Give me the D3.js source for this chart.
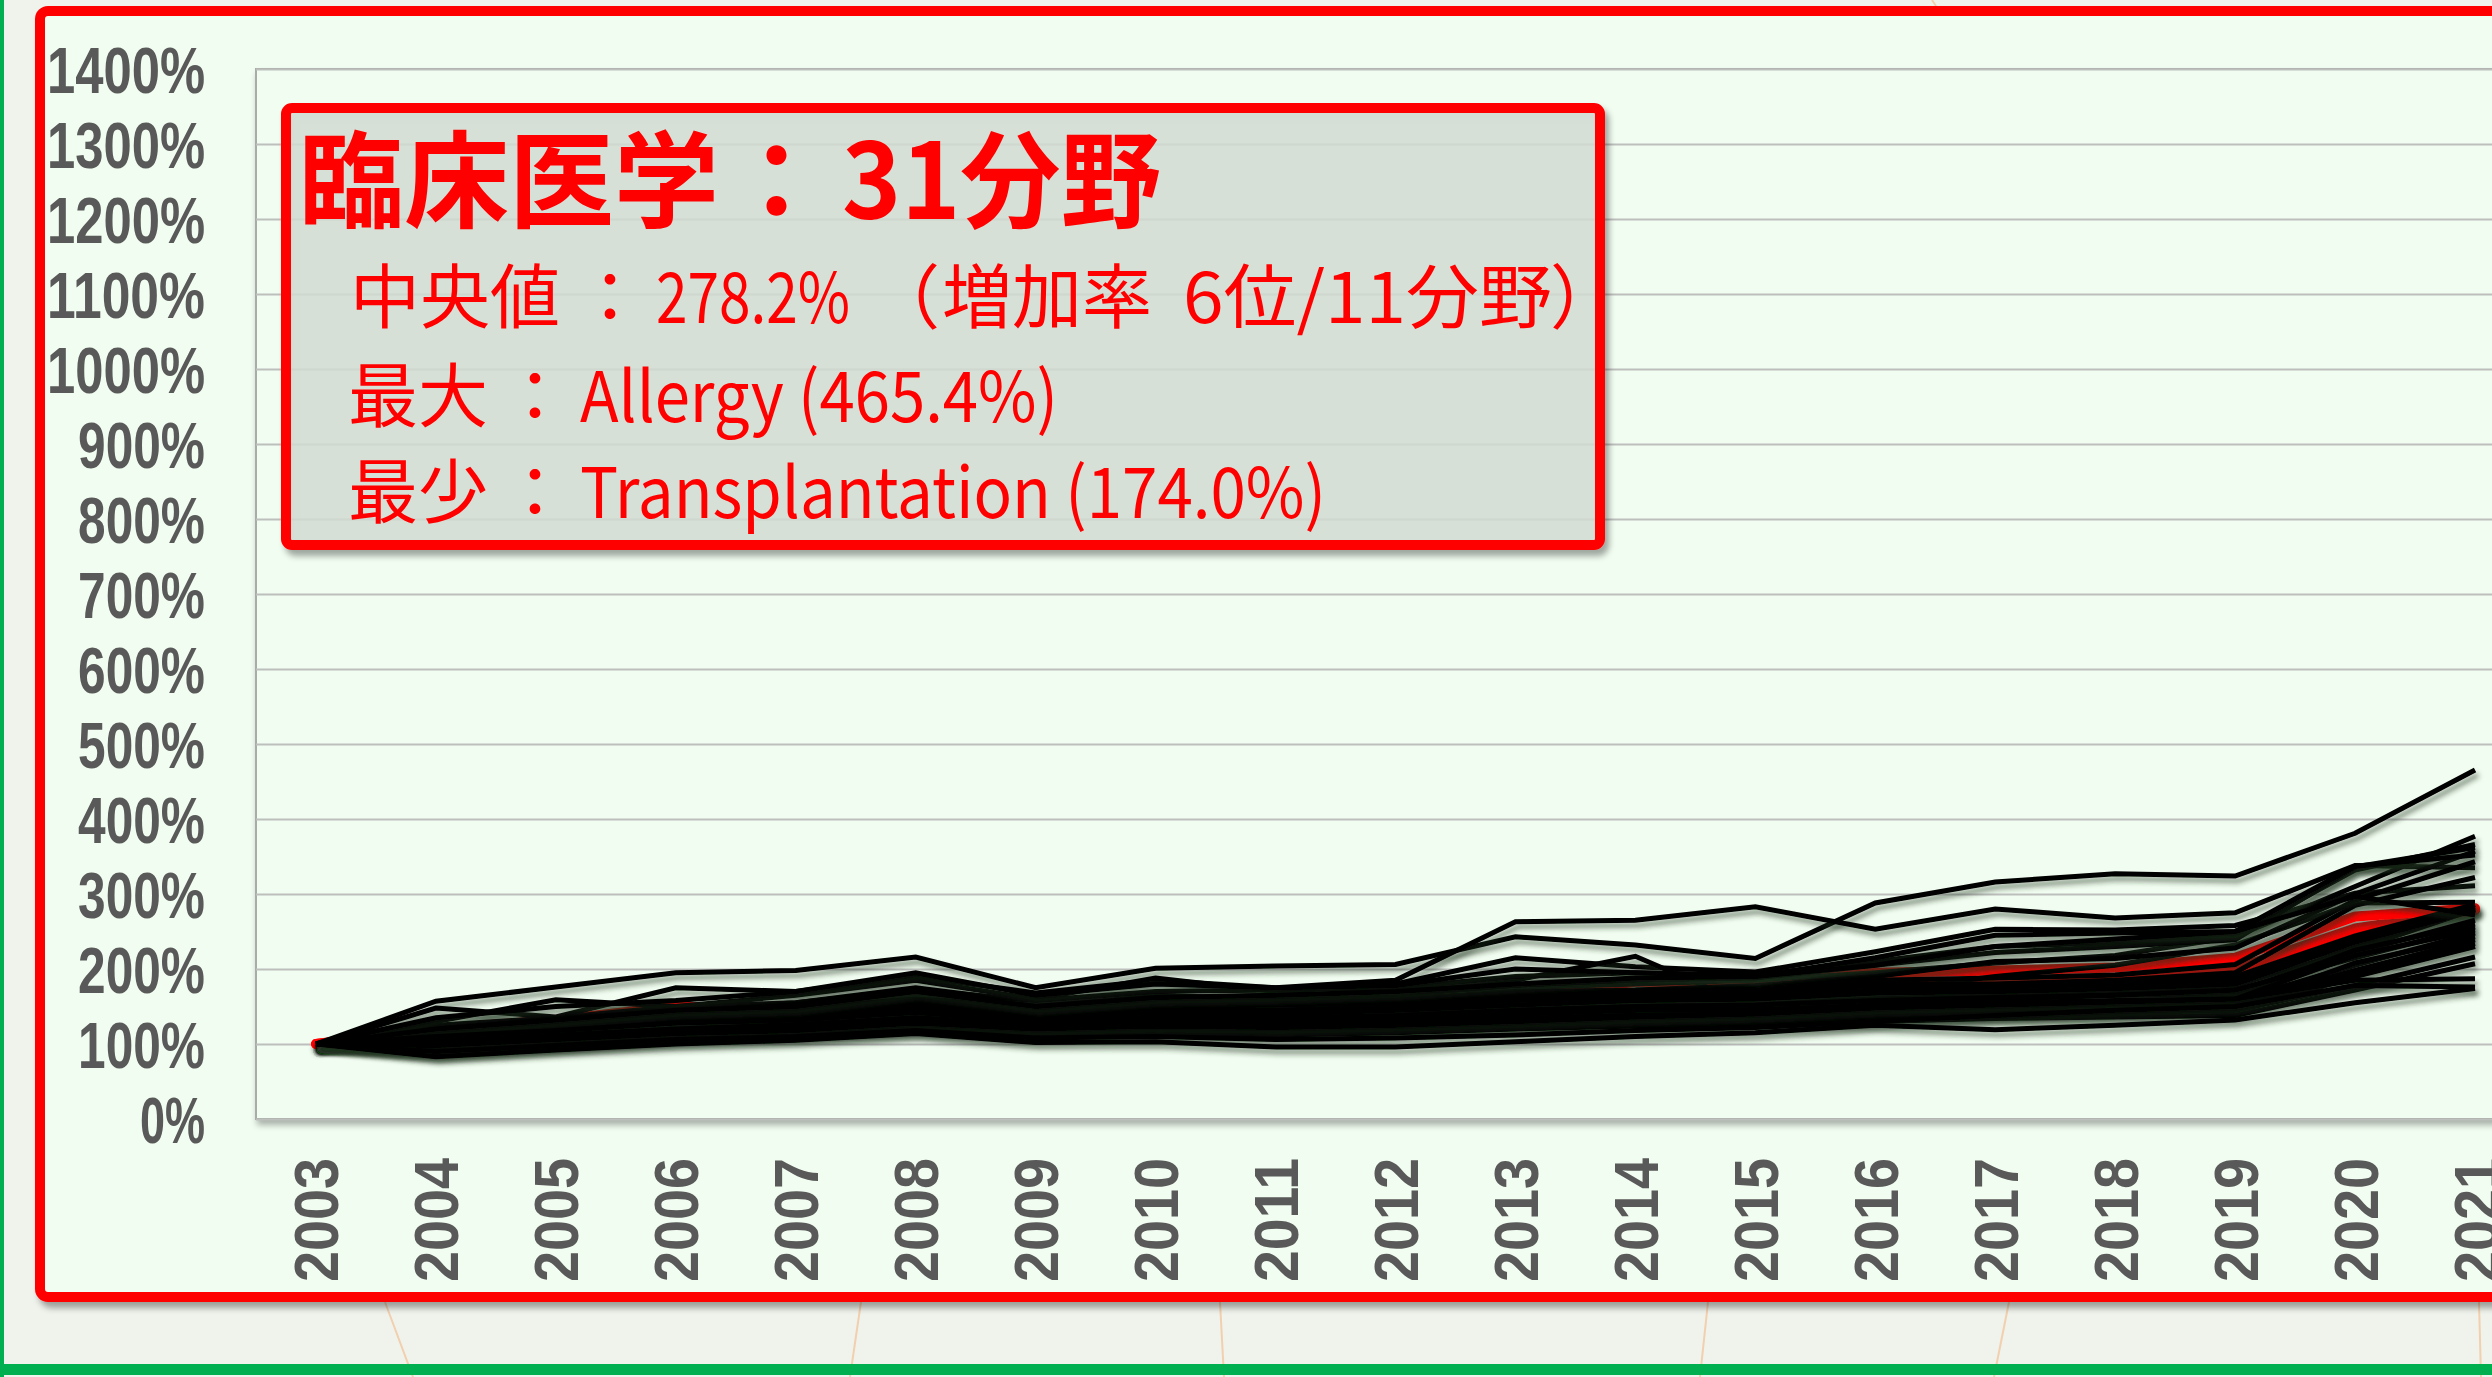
<!DOCTYPE html>
<html><head><meta charset="utf-8">
<script src="https://cdn.jsdelivr.net/npm/d3@7"></script>
<style>
html,body{margin:0;padding:0;background:#EFF3EC;overflow:hidden;}
svg{display:block;}
</style></head><body>
<svg id="chart" width="2492" height="1377"></svg>
<script>
// ---------- data ----------
const years = [2003,2004,2005,2006,2007,2008,2009,2010,2011,2012,2013,2014,2015,2016,2017,2018,2019,2020,2021];
const yTicks = [0,100,200,300,400,500,600,700,800,900,1000,1100,1200,1300,1400];

// 31 fields (black), values in % of 2003
const allergy = [100,157,176,195,198,216,175,201,204,206,243,232,214,288,316,327,324,381,465.4];
const s02 = [100,148,136,175,170,190,168,185,175,185,263,265,283,253,280,268,275,338,335];
const s03 = [100,130,159,150,165,185,160,188,170,180,215,203,196,223,253,252,258,301,311];
const s04 = [100,125,135,150,155,175,155,165,160,170,185,217,148,170,190,205,232,288,289];
const s05 = [100,118,130,142,150,165,150,160,165,168,175,180,185,195,208,218,243,310,377];
const s06 = [100,122,135,145,155,172,158,170,172,175,190,195,192,210,230,235,245,332,366];
const s07 = [100,115,128,140,148,160,150,158,160,165,178,185,188,205,222,230,239,336,362];
const s08 = [100,112,125,138,145,158,145,152,155,160,170,172,178,190,210,214,228,300,357];
const s09 = [100,135,150,158,170,195,165,180,175,178,200,195,190,215,245,248,250,337,352];
const s10 = [100,110,122,135,142,155,142,150,150,155,165,170,172,185,188,192,206,292,343];
const s11 = [100,108,120,130,140,150,140,148,148,152,160,165,168,180,180,185,195,285,322];
const s12 = [100,115,125,138,142,155,145,150,152,155,160,168,170,178,178,182,190,244,286];
const s13 = [100,105,115,125,132,142,132,140,138,142,150,155,158,165,172,178,185,238,283];
const s14 = [100,112,122,132,138,150,140,146,145,150,158,162,165,172,176,180,186,232,281];
const s15 = [100,102,112,122,128,138,128,135,135,140,145,150,152,160,165,170,178,226,279.5];
const s16 = [100,108,118,128,135,145,135,142,140,145,152,158,160,168,170,174,180,236,278.2];
const s17 = [100,120,132,145,150,170,150,162,165,170,180,188,190,205,230,240,250,297,272];
const s18 = [100,98,108,118,124,135,126,132,132,135,142,148,150,155,160,165,170,222,265];
const s19 = [100,110,118,128,132,142,130,136,135,138,145,150,152,158,162,165,165,225,260];
const s20 = [100,95,105,115,120,130,122,128,128,132,138,142,145,152,160,165,172,215,256];
const s21 = [100,104,112,120,126,135,126,132,130,134,140,145,146,150,155,158,160,218,252];
const s22 = [100,92,102,112,118,128,120,125,124,128,134,138,140,146,150,154,158,205,248];
const s23 = [100,100,108,116,120,130,122,126,125,128,134,138,140,144,146,148,150,208,243];
const s24 = [100,90,100,110,115,125,118,122,120,124,130,134,136,142,148,152,155,198,239];
const s25 = [100,96,104,112,117,126,117,121,120,123,128,132,134,138,142,145,148,195,234];
const s26 = [100,88,98,108,113,122,114,118,116,120,125,128,130,134,138,140,142,190,230];
const s27 = [100,94,102,110,115,124,115,119,118,120,126,130,132,136,140,142,145,178,216];
const s28 = [100,86,96,106,112,120,110,114,112,115,120,124,126,130,134,136,138,172,207];
const s29 = [100,98,106,114,118,128,120,124,122,125,130,136,140,148,152,156,160,185,187];
const s30 = [100,90,98,106,110,118,108,110,106,108,112,118,122,130,138,145,150,178,176];
const transplantation = [100,83,92,100,105,114,102,103,96,96,103,110,115,125,119,125,132,155,174.0];

// red (median) lines
const medianUpper = [100,120,132,150,145,165,150,155,155,160,162,183,183,195,198,202,215,270,281];
const medianLower = [100,118,128,140,142,150,148,150,152,155,158,160,163,183,181,187,200,254,278.2];

const blackSeries = [allergy,s02,s03,s04,s05,s06,s07,s08,s09,s10,s11,s12,s13,s14,s15,s16,s17,s18,s19,s20,s21,s22,s23,s24,s25,s26,s27,s28,s29,s30,transplantation];
const redSeries = [medianLower, medianUpper];

const titleText = ["臨床医学", "：", "31分野"];
const line2 = ["中央値", "：", "278.2%", "（", "増加率", "6位/11分野", "）"];
const line3 = ["最大", "：", "Allergy (465.4%)"];
const line4 = ["最少", "：", "Transplantation (174.0%)"];

// ---------- drawing ----------
const W = 2492, H = 1377;
const svg = d3.select("#chart");
const defs = svg.append("defs");
function addShadow(id, dx, dy, sd, color, op) {
  const f = defs.append("filter").attr("id", id)
    .attr("filterUnits", "userSpaceOnUse")
    .attr("x", -50).attr("y", -50).attr("width", W + 100).attr("height", H + 100);
  f.append("feDropShadow").attr("dx", dx).attr("dy", dy).attr("stdDeviation", sd)
    .attr("flood-color", color).attr("flood-opacity", op);
}
addShadow("lineShadow", 3, 5, 2.5, "#1f2f1f", 0.5);
addShadow("boxShadow", 4, 6, 3, "#000", 0.35);
addShadow("plotShadow", 2, 5, 3, "#000", 0.3);

// page background
svg.append("rect").attr("width", W).attr("height", H).attr("fill", "#EFF3EC");
// faint background strokes
const tan = svg.append("g").attr("stroke", "#F2CFAE").attr("stroke-width", 2).attr("fill", "none");
[[385,1302,413,1377],[861,1302,850,1377],[1220,1302,1224,1377],[1708,1302,1700,1377],[2009,1302,1994,1377],[2479,1302,2481,1377],[1932,0,1936,6]]
  .forEach(s => tan.append("line").attr("x1", s[0]).attr("y1", s[1]).attr("x2", s[2]).attr("y2", s[3]));
// green edges
svg.append("rect").attr("x", 0).attr("y", 0).attr("width", 4).attr("height", H).attr("fill", "#00B050");
svg.append("rect").attr("x", 0).attr("y", 1364).attr("width", W).attr("height", 11).attr("fill", "#00B050");

// red chart frame
svg.append("rect").attr("x", 40).attr("y", 11).attr("width", 2600).attr("height", 1286).attr("rx", 8)
  .attr("fill", "#F1FDF0").attr("stroke", "#FF0000").attr("stroke-width", 10)
  .attr("filter", "url(#boxShadow)");

// scales
const plotL = 256, plotR = 2535, plotT = 69, plotB = 1119;
const x = d3.scalePoint().domain(years).range([plotL, plotR]).padding(0.5);
const y = d3.scaleLinear().domain([0, 1400]).range([plotB, plotT]);

// plot area
svg.append("rect").attr("x", plotL).attr("y", plotT).attr("width", plotR - plotL).attr("height", plotB - plotT)
  .attr("fill", "#F1FDF0").attr("stroke", "#A8ABA8").attr("stroke-width", 2)
  .attr("filter", "url(#plotShadow)");

// gridlines
const grid = svg.append("g").attr("transform", `translate(${plotL},0)`)
  .call(d3.axisLeft(y).tickValues(yTicks).tickSize(-(plotR - plotL)).tickFormat(""));
grid.select(".domain").remove();
grid.selectAll(".tick line").attr("stroke", "#BDBFBD").attr("stroke-width", 2);

// y labels
const fsY = 64;
const yAx = svg.append("g").attr("transform", `translate(${plotL},0)`)
  .call(d3.axisLeft(y).tickValues(yTicks).tickSize(0).tickFormat(d => d + "%"));
yAx.select(".domain").remove();
yAx.selectAll(".tick text").each(function(d) {
  const s = d + "%";
  const len = fsY * (0.484 * (s.length - 1) + 0.532);
  d3.select(this).attr("text-anchor", "start").attr("x", -51 - len).attr("dy", "0.36em")
    .attr("textLength", len).attr("lengthAdjust", "spacingAndGlyphs")
    .attr("fill", "#595959").attr("font-family", "'Liberation Sans', Arial, sans-serif")
    .attr("font-weight", "bold").attr("font-size", fsY);
});

// x labels
const fsX = 63;
const xAx = svg.append("g").attr("transform", `translate(0,${plotB})`)
  .call(d3.axisBottom(x).tickSize(0));
xAx.select(".domain").remove();
xAx.selectAll(".tick text").each(function() {
  d3.select(this).attr("transform", "rotate(-90)").attr("text-anchor", "start")
    .attr("x", -39 - 124).attr("y", 0).attr("dy", 22)
    .attr("textLength", 124).attr("lengthAdjust", "spacingAndGlyphs")
    .attr("fill", "#595959").attr("font-family", "'Liberation Sans', Arial, sans-serif")
    .attr("font-weight", "bold").attr("font-size", fsX);
});

// lines
const line = d3.line().x((d, i) => x(years[i])).y(d => y(d));
svg.append("g").selectAll("path").data(redSeries).join("path")
  .attr("d", line).attr("fill", "none").attr("stroke", "#FF0000").attr("stroke-width", 10)
  .attr("stroke-linecap", "round").attr("stroke-linejoin", "round")
  .attr("filter", "url(#lineShadow)");
svg.append("g").selectAll("path").data(blackSeries).join("path")
  .attr("d", line).attr("fill", "none").attr("stroke", "#000").attr("stroke-width", 5)
  .attr("stroke-linejoin", "miter")
  .attr("filter", "url(#lineShadow)");

// annotation box
svg.append("rect").attr("x", 286).attr("y", 108).attr("width", 1314).attr("height", 437).attr("rx", 6)
  .attr("fill", "#D8E1D7").attr("fill-opacity", 0.8)
  .attr("stroke", "#FF0000").attr("stroke-width", 10)
  .attr("filter", "url(#boxShadow)");

function addLine(parts, xs, lens, yb, fs, weight) {
  const g = svg.append("g").attr("fill", "#FF0000")
    .attr("font-family", "'Noto Sans CJK JP', 'Noto Sans', sans-serif")
    .attr("font-size", fs).attr("font-weight", weight);
  parts.forEach((p, i) => {
    const t = g.append("text").attr("x", xs[i]).attr("y", yb).text(p);
    if (lens[i]) t.attr("textLength", lens[i]).attr("lengthAdjust", "spacingAndGlyphs");
  });
}
addLine(titleText, [299, 724, 842], [null, null, 319], 219, 105, "bold");
addLine(line2, [350, 575, 656, 870, 942, 1183, 1550], [null, null, 194, null, 210, 369, null], 323, 70, "normal");
addLine(line3, [348, 500, 580], [null, null, 478], 422, 70, "normal");
addLine(line4, [348, 500, 580], [null, null, 746], 518, 70, "normal");
</script>
</body></html>
